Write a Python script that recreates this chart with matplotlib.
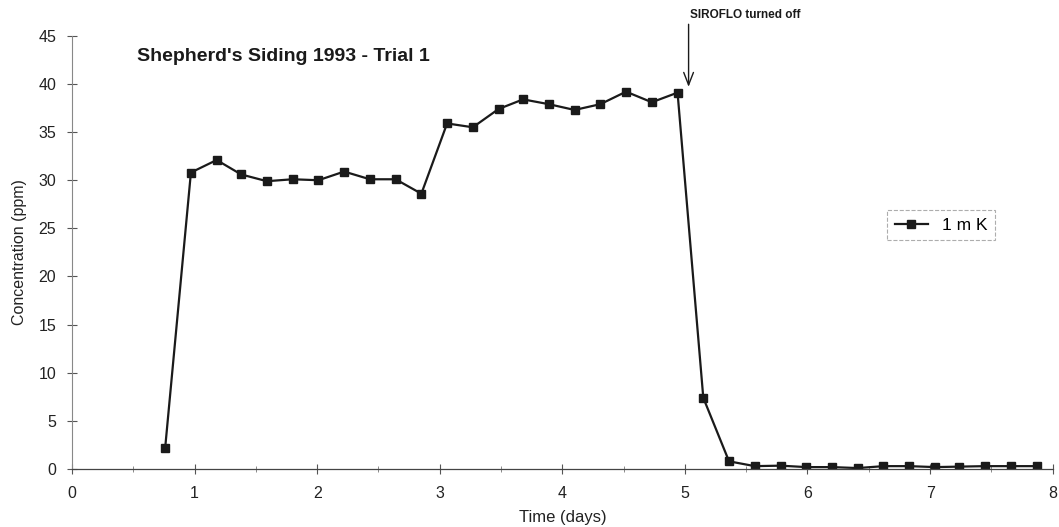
#!/usr/bin/env python3
"""
Shepherd's Siding 1993 - Trial 1: concentration vs time.
"""

import matplotlib.pyplot as plt
from matplotlib.ticker import MultipleLocator

# time (days) and concentration (ppm)
time_days = [0.76, 0.97, 1.18, 1.38, 1.59, 1.80, 2.01, 2.22, 2.43, 2.64,
             2.85, 3.06, 3.27, 3.48, 3.68, 3.89, 4.10, 4.31, 4.52, 4.73,
             4.94, 5.15, 5.36, 5.57, 5.78, 5.99, 6.20, 6.41, 6.62, 6.83,
             7.04, 7.24, 7.45, 7.66, 7.87]
conc_ppm = [2.2, 30.8, 32.1, 30.6, 29.9, 30.1, 30.0, 30.9, 30.1, 30.1,
            28.6, 35.9, 35.5, 37.4, 38.4, 37.9, 37.3, 37.9, 39.2, 38.1,
            39.1, 7.4, 0.8, 0.3, 0.35, 0.2, 0.2, 0.1, 0.3, 0.3,
            0.2, 0.25, 0.3, 0.3, 0.3]

series_label = '1 m K'
chart_title = "Shepherd's Siding 1993 - Trial 1"
event_label = 'SIROFLO turned off'
event_time = 5.03


def main():
    plt.rcParams['font.family'] = ['Liberation Sans', 'DejaVu Sans']

    fig = plt.figure(figsize=(10.59, 5.27), dpi=100)
    ax = fig.add_axes([0.068, 0.110, 0.926, 0.822])

    ax.plot(time_days, conc_ppm, '-s', color='#1a1a1a', linewidth=1.6,
            markersize=5.5, markerfacecolor='#1a1a1a', label=series_label)

    ax.set_xlim(0, 8)
    ax.set_ylim(0, 45)
    ax.xaxis.set_major_locator(MultipleLocator(1))
    ax.xaxis.set_minor_locator(MultipleLocator(0.5))
    ax.yaxis.set_major_locator(MultipleLocator(5))

    for side in ('top', 'right'):
        ax.spines[side].set_visible(False)
    ax.spines['left'].set_color('#888888')
    ax.spines['left'].set_linewidth(0.8)
    ax.spines['bottom'].set_color('#444444')
    ax.spines['bottom'].set_linewidth(0.9)

    ax.tick_params(axis='both', which='major', direction='inout', length=7,
                   width=0.8, color='#555555', labelsize=11.5,
                   labelcolor='#222222')
    ax.tick_params(axis='x', which='minor', direction='inout', length=4,
                   width=0.6, color='#777777')
    ax.tick_params(axis='x', pad=8.5)
    ax.tick_params(axis='y', pad=8)

    ax.set_xlabel('Time (days)', fontsize=12, color='#222222', labelpad=7)
    ax.set_ylabel('Concentration (ppm)', fontsize=11.5, color='#222222',
                  labelpad=8)

    ax.text(0.53, 42.9, chart_title, fontsize=14, fontweight='bold',
            color='#1a1a1a', va='center', ha='left')

    # event marker: vertical arrow with its label just above the axes
    ax.annotate('', xy=(event_time, 39.7), xytext=(event_time, 46.2),
                annotation_clip=False,
                arrowprops=dict(arrowstyle='->,head_length=0.9,head_width=0.35',
                                color='#1a1a1a', lw=1.0,
                                shrinkA=0, shrinkB=0))
    ax.text(event_time + 0.015, 47.2, event_label, fontsize=8.5,
            fontweight='bold', color='#1a1a1a', ha='left', va='center',
            clip_on=False)

    leg = ax.legend(loc='center', bbox_to_anchor=(0.8886, 0.573),
                    bbox_transform=fig.transFigure, fontsize=12.5,
                    frameon=True, fancybox=False, handlelength=1.9,
                    borderpad=0.45)
    leg.get_frame().set_edgecolor('#999999')
    leg.get_frame().set_linestyle('--')
    leg.get_frame().set_linewidth(0.8)

    fig.savefig('out.png', dpi=100)
    plt.close(fig)


if __name__ == '__main__':
    main()
